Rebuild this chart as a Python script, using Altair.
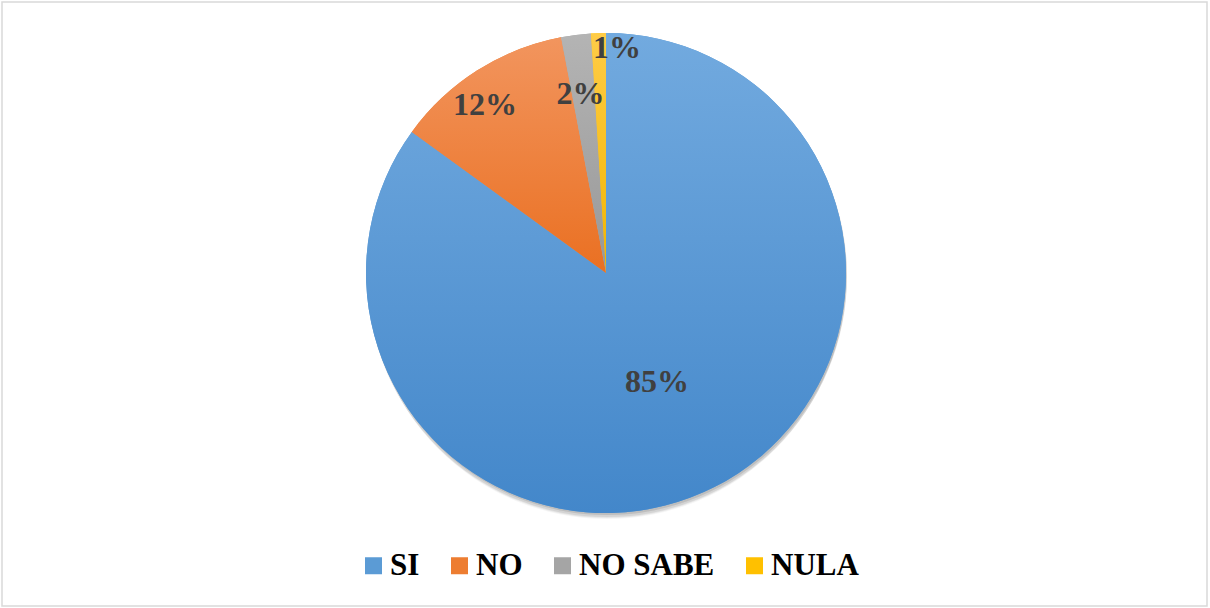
import altair as alt
import pandas as pd

categories = ["SI", "NO", "NO SABE", "NULA"]
values = [85, 12, 2, 1]
labels = ["85%", "12%", "2%", "1%"]

colors = ["#5B9BD5", "#ED7D31", "#A5A5A5", "#FFC000"]
grad_top = ["#72AADF", "#F2955E", "#B4B4B4", "#FFCC47"]
grad_bot = ["#4387CA", "#EA7022", "#989898", "#F2B500"]

df = pd.DataFrame({"cat": categories, "value": values, "label": labels,
                   "idx": list(range(len(categories)))})
total = sum(values)

CX, CY, R = 606, 273, 240
FONT = "Liberation Serif"

base = (
    alt.Chart(df)
    .transform_window(end="sum(value)", sort=[alt.SortField("idx")], frame=[None, 0])
    .transform_calculate(start="datum.end - datum.value", mid="datum.end - datum.value / 2")
)
theta_scale = alt.Scale(domain=[0, total])

one = pd.DataFrame({"a": [0]})

# soft shadow under the pie
shadows = []
for oy, rr, op in [(2, 240, 0.10), (4, 240, 0.08), (6, 239, 0.06), (8, 238, 0.04)]:
    shadows.append(
        alt.Chart(one)
        .mark_arc(radius=rr, theta=0, theta2=6.2832, color="#000000", opacity=op)
        .encode(x=alt.value(CX + 1), y=alt.value(CY + oy))
    )

pie = base.mark_arc(radius=R).encode(
    theta=alt.Theta("start:Q", scale=theta_scale, stack=False),
    theta2="end:Q",
    color=alt.Color(
        "cat:N",
        scale=alt.Scale(domain=categories, range=colors),
        legend=alt.Legend(
            orient="none", legendX=358, legendY=550, direction="horizontal",
            title=None, symbolType="square", symbolSize=289, symbolStrokeWidth=0,
            labelFont=FONT, labelFontSize=31, labelFontWeight="bold",
            labelColor="#000000", labelOffset=1, columnPadding=24, padding=0,
        ),
    ),
    x=alt.value(CX),
    y=alt.value(CY),
)

grad_layers = []
for cat, t, b in zip(categories, grad_top, grad_bot):
    g = alt.Gradient(
        gradient="linear",
        stops=[alt.GradientStop(color=t, offset=0), alt.GradientStop(color=b, offset=1)],
        x1=0, x2=0, y1=0, y2=1,
    )
    grad_layers.append(
        base.transform_filter(alt.datum.cat == cat)
        .mark_arc(radius=R, fill=g)
        .encode(
            theta=alt.Theta("start:Q", scale=theta_scale, stack=False),
            theta2="end:Q",
            x=alt.value(CX),
            y=alt.value(CY),
        )
    )

label_style = {"SI": (121, -4, 1), "NO": (207, -10, 7), "NO SABE": (180, -3, 0), "NULA": (225, 18, 0)}
text_layers = []
for cat in categories:
    r, dx, dy = label_style[cat]
    text_layers.append(
        base.transform_filter(alt.datum.cat == cat)
        .mark_text(radius=r, dx=dx, dy=dy, font=FONT, fontSize=32, fontWeight="bold",
                   color="#404040", align="center", baseline="middle")
        .encode(
            theta=alt.Theta("mid:Q", scale=theta_scale, stack=False),
            text="label:N",
            x=alt.value(CX),
            y=alt.value(CY),
        )
    )

border = (
    alt.Chart(one)
    .mark_rect(filled=False, stroke="#D9D9D9", strokeWidth=1.5)
    .encode(x=alt.value(2), x2=alt.value(1207), y=alt.value(2), y2=alt.value(606))
)

chart = (
    alt.layer(border, *shadows, pie, *grad_layers, *text_layers)
    .properties(width=1210, height=608, padding=0, autosize=alt.AutoSizeParams(type="none"),
                background="#FFFFFF")
    .configure_view(strokeWidth=0)
    .configure_legend(labelFont=FONT, labelFontSize=31, labelFontWeight="bold")
)

chart.save("out.html", embed_options={"renderer": "svg", "actions": False})
